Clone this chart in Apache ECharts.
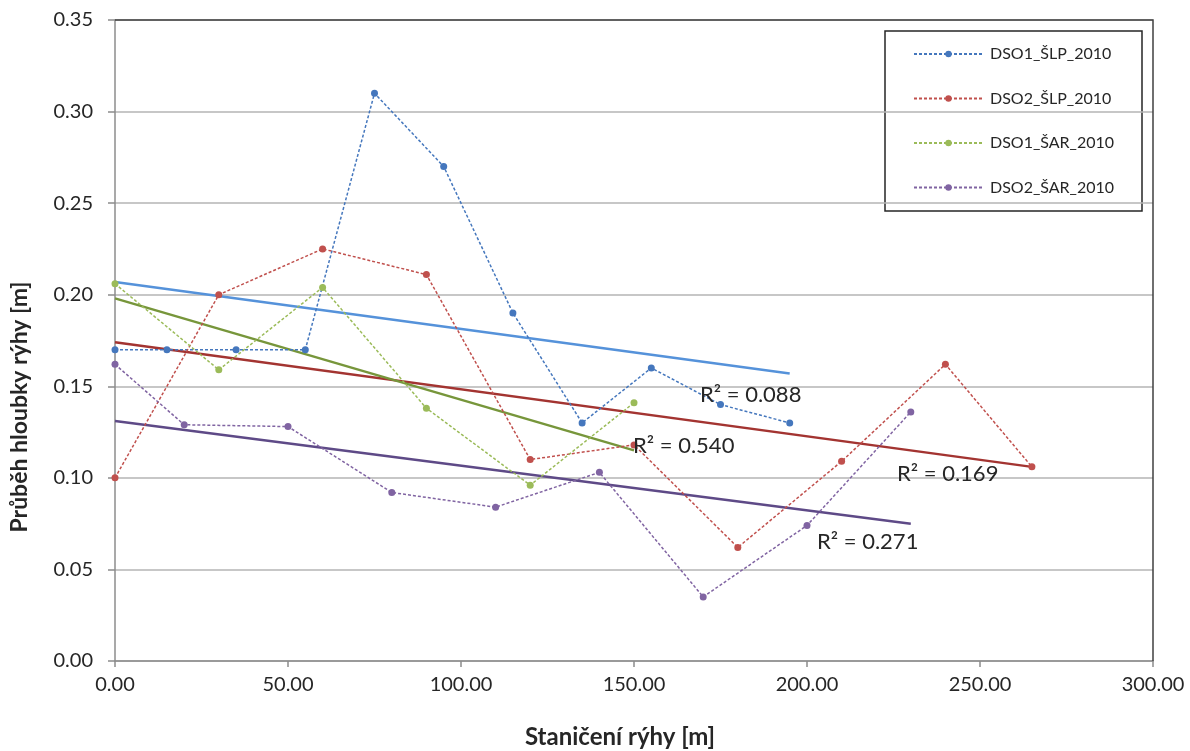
<!DOCTYPE html>
<html>
<head>
<meta charset="utf-8">
<script src="https://cdn.jsdelivr.net/npm/echarts@6/dist/echarts.min.js"></script>
<style>
html,body{margin:0;padding:0;background:#fff;}
#chart{width:1190px;height:751px;}
</style>
</head>
<body>
<div id="chart"></div>
<script>
// ---- data ----
const seriesNames = ['DSO1_ŠLP_2010', 'DSO2_ŠLP_2010', 'DSO1_ŠAR_2010', 'DSO2_ŠAR_2010'];

const dso1SlpX = [0, 15, 35, 55, 75, 95, 115, 135, 155, 175, 195];
const dso1SlpY = [0.170, 0.170, 0.170, 0.170, 0.310, 0.270, 0.190, 0.130, 0.160, 0.140, 0.130];

const dso2SlpX = [0, 30, 60, 90, 120, 150, 180, 210, 240, 265];
const dso2SlpY = [0.100, 0.200, 0.225, 0.211, 0.110, 0.118, 0.062, 0.109, 0.162, 0.106];

const dso1SarX = [0, 30, 60, 90, 120, 150];
const dso1SarY = [0.206, 0.159, 0.204, 0.138, 0.096, 0.141];

const dso2SarX = [0, 20, 50, 80, 110, 140, 170, 200, 230];
const dso2SarY = [0.162, 0.129, 0.128, 0.092, 0.084, 0.103, 0.035, 0.074, 0.136];

// linear trendlines (start / end)
const trend1SlpX = [0, 195];   const trend1SlpY = [0.207, 0.157];
const trend2SlpX = [0, 265];   const trend2SlpY = [0.174, 0.106];
const trend1SarX = [0, 150];   const trend1SarY = [0.198, 0.115];
const trend2SarX = [0, 230];   const trend2SarY = [0.131, 0.075];

const r2Labels = ['R² = 0.088', 'R² = 0.169', 'R² = 0.540', 'R² = 0.271'];

const xTicks = [0, 300, 50];      // min, max, interval
const yTicks = [0, 0.35, 0.05];

const xTitle = 'Staničení rýhy [m]';
const yTitle = 'Průběh hloubky rýhy [m]';

// ---- build ----
function pairs(xs, ys) { return xs.map((x, i) => [x, ys[i]]); }

const font = 'Lato, "Open Sans", "DejaVu Sans", sans-serif';
const markerColors = ['#4577BD', '#C0504D', '#9BBB59', '#8064A2'];
const trendColors = ['#5592DA', '#A33431', '#77963B', '#5E4A87'];

const dataSets = [[dso1SlpX, dso1SlpY], [dso2SlpX, dso2SlpY], [dso1SarX, dso1SarY], [dso2SarX, dso2SarY]];
const trendSets = [[trend1SlpX, trend1SlpY], [trend2SlpX, trend2SlpY], [trend1SarX, trend1SarY], [trend2SarX, trend2SarY]];

const series = [];
trendSets.forEach((t, i) => {
  series.push({
    name: 'trend' + i,
    type: 'line',
    data: pairs(t[0], t[1]),
    showSymbol: false,
    symbol: 'none',
    silent: true,
    z: 2,
    lineStyle: { color: trendColors[i], width: 2.5 },
    animation: false
  });
});
dataSets.forEach((d, i) => {
  series.push({
    name: seriesNames[i],
    type: 'line',
    data: pairs(d[0], d[1]),
    symbol: 'circle',
    symbolSize: 7,
    z: 3,
    itemStyle: { color: markerColors[i] },
    lineStyle: { color: markerColors[i], width: 1.5, type: [3, 2] },
    animation: false
  });
});

const chart = echarts.init(document.getElementById('chart'), null, { renderer: 'canvas' });

const labelStyle = { fontFamily: font, fontSize: 22, fill: '#262626' };

chart.setOption({
  backgroundColor: '#ffffff',
  animation: false,
  grid: { left: 115, right: 37, top: 20, bottom: 90, show: false },
  xAxis: {
    type: 'value',
    min: xTicks[0], max: xTicks[1], interval: xTicks[2],
    axisLine: { show: true, lineStyle: { color: '#8c8c8c', width: 1.5 } },
    axisTick: { show: true, length: 6, lineStyle: { color: '#8c8c8c', width: 1.5 } },
    splitLine: { show: false },
    axisLabel: {
      margin: 14,
      fontFamily: font, fontSize: 20, color: '#262626',
      formatter: v => v.toFixed(2)
    }
  },
  yAxis: {
    type: 'value',
    min: yTicks[0], max: yTicks[1], interval: yTicks[2],
    axisLine: { show: true, lineStyle: { color: '#8c8c8c', width: 1.5 } },
    axisTick: { show: true, length: 7, lineStyle: { color: '#8c8c8c', width: 1.5 } },
    splitLine: { show: true, lineStyle: { color: '#b4b4b4', width: 1.5 } },
    axisLabel: {
      margin: 22,
      fontFamily: font, fontSize: 20, color: '#262626',
      formatter: v => v.toFixed(2)
    }
  },
  legend: {
    data: seriesNames,
    orient: 'vertical',
    left: 913,
    top: 45,
    itemWidth: 69,
    itemHeight: 8,
    itemGap: 26.5,
    padding: 0,
    textStyle: { fontFamily: font, fontSize: 16, lineHeight: 18, color: '#262626', padding: [0, 0, 0, 2] }
  },
  series: series,
  graphic: [
    // plot border (top and right, dark)
    { type: 'polyline', z: 10, silent: true,
      shape: { points: [[115, 20], [1153, 20], [1153, 661]] },
      style: { stroke: '#404040', lineWidth: 1.5, fill: null } },
    // legend box
    { type: 'rect', z: 0, silent: true,
      shape: { x: 885, y: 31, width: 257, height: 180 },
      style: { stroke: '#262626', lineWidth: 1.5, fill: '#ffffff' } },
    // R² labels
    { type: 'text', z: 20, left: 700, top: 384, style: Object.assign({ text: r2Labels[0] }, labelStyle) },
    { type: 'text', z: 20, left: 897, top: 463, style: Object.assign({ text: r2Labels[1] }, labelStyle) },
    { type: 'text', z: 20, left: 633, top: 435, style: Object.assign({ text: r2Labels[2] }, labelStyle) },
    { type: 'text', z: 20, left: 817, top: 531, style: Object.assign({ text: r2Labels[3] }, labelStyle) },
    // axis titles
    { type: 'text', z: 20, x: 620, y: 737,
      style: { text: xTitle, fontFamily: font, fontSize: 24, fontWeight: 'bold', fill: '#262626', align: 'center', verticalAlign: 'middle' } },
    { type: 'text', z: 20, x: 20, y: 407, rotation: Math.PI / 2,
      style: { text: yTitle, fontFamily: font, fontSize: 23, fontWeight: 'bold', fill: '#262626', align: 'center', verticalAlign: 'middle' } }
  ]
});
</script>
</body>
</html>
